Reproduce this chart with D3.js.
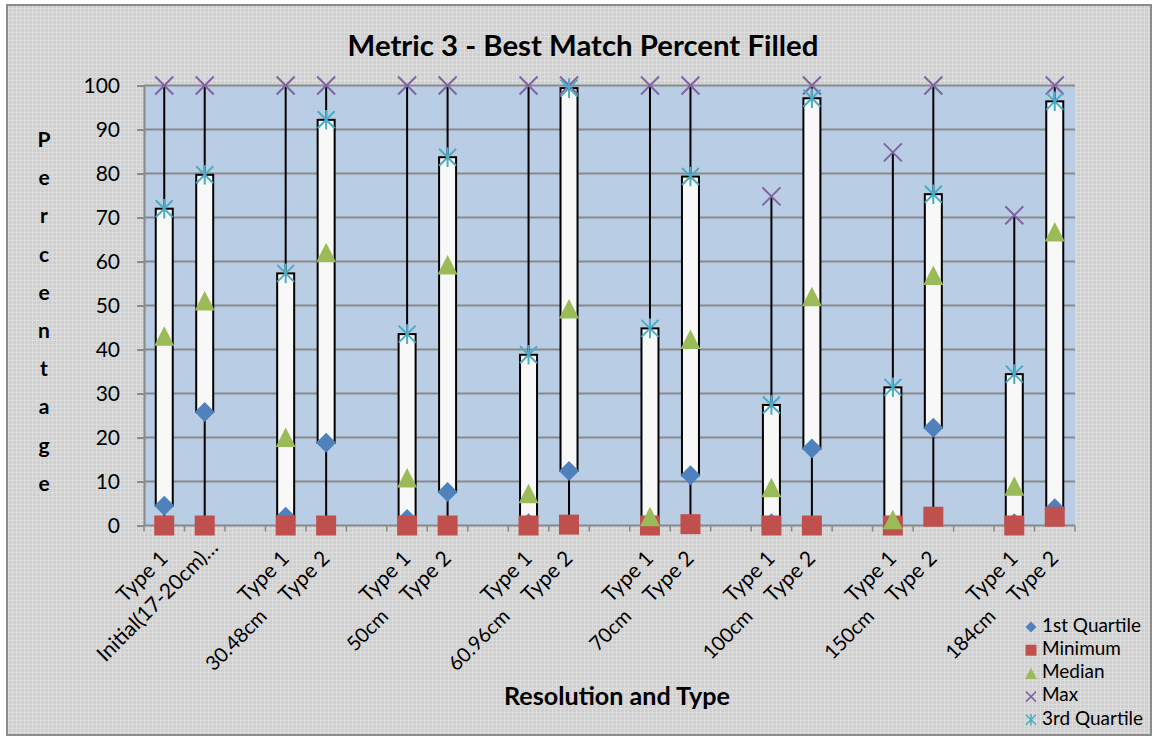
<!DOCTYPE html>
<html>
<head>
<meta charset="utf-8">
<script src="https://cdn.jsdelivr.net/npm/d3@7"></script>
<style>
  html, body { margin: 0; padding: 0; background: #ffffff; }
  svg { display: block; }
  text { font-family: Lato, "Open Sans", sans-serif; fill: #000; }
</style>
</head>
<body>
<svg id="chart" width="1158" height="740"></svg>
<script>
// Resolution groups and types, one box per (resolution, type)
const resolutions = ["Initial(17-20cm)", "30.48cm", "50cm", "60.96cm", "70cm", "100cm", "150cm", "184cm"];
const types = ["Type 1", "Type 2"];

// Five-number summaries, ordered T1, T2 for each resolution
const minimum  = [0, 0,    0, 0,    0, 0,    0, 0.2,  0, 0.3,  0, 0,    0, 2,     0, 2];
const quartile1 = [4.5, 25.8, 2, 18.8, 1.5, 7.6, 0.5, 12.4, 0, 11.4, 0.5, 17.5, 0, 22.2, 0.5, 3.9];
const median   = [43, 51,  20, 62,  10.8, 59.2, 7.2, 49.2, 2, 42.3, 8.6, 52, 1.3, 56.8, 8.9, 66.7];
const quartile3 = [72, 79.7, 57.3, 92.2, 43.5, 83.7, 38.8, 99.4, 44.8, 79.3, 27.4, 97.1, 31.4, 75.3, 34.4, 96.4];
const maximum  = [100, 100, 100, 100, 100, 100, 100, 100, 100, 100, 74.8, 100, 84.8, 100, 70.5, 100];

const yTicks = [0, 10, 20, 30, 40, 50, 60, 70, 80, 90, 100];
const legendNames = ["1st Quartile", "Minimum", "Median", "Max", "3rd Quartile"];

const colors = {
  q1: "#4f81bd", min: "#c0504d", med: "#9bbb59", max: "#8064a2", q3: "#4bacc6"
};

// Category slots: Type 1, Type 2, then an empty spacer after each group
const slots = [];
resolutions.forEach((r, gi) => {
  types.forEach((t, ti) => slots.push({ res: r, type: t, group: gi, ti: ti, k: gi * 2 + ti }));
  if (gi < resolutions.length - 1) slots.push(null);
});
const boxes = slots.map((s, i) => s ? Object.assign({ slot: i }, s) : null).filter(Boolean);
boxes.forEach(b => {
  b.min = minimum[b.k]; b.q1 = quartile1[b.k]; b.med = median[b.k];
  b.q3 = quartile3[b.k]; b.max = maximum[b.k];
});

const svg = d3.select("#chart");
const plot = { left: 144, right: 1075, top: 85.5, bottom: 525.5 };

// textured chart-area fill
const defs = svg.append("defs");
const pat = defs.append("pattern").attr("id", "tex").attr("width", 4).attr("height", 4)
  .attr("patternUnits", "userSpaceOnUse");
pat.append("rect").attr("width", 4).attr("height", 4).attr("fill", "#cfcfcf");
pat.append("rect").attr("width", 4).attr("height", 1).attr("fill", "#dddddd");
pat.append("rect").attr("width", 1).attr("height", 4).attr("fill", "#dddddd");

svg.append("rect").attr("x", 7).attr("y", 5).attr("width", 1144).attr("height", 730)
  .attr("fill", "url(#tex)").attr("stroke", "#8c8c8c").attr("stroke-width", 2);

const x = d3.scaleBand().domain(d3.range(slots.length)).range([plot.left, plot.right]).padding(0);
const y = d3.scaleLinear().domain([0, 100]).range([plot.bottom, plot.top]);
const cx = i => x(i) + x.bandwidth() / 2;

// plot area
svg.append("rect").attr("x", plot.left).attr("y", plot.top)
  .attr("width", plot.right - plot.left).attr("height", plot.bottom - plot.top)
  .attr("fill", "#b9cde5");

// horizontal gridlines
svg.append("g").selectAll("line").data(yTicks.filter(d => d > 0)).join("line")
  .attr("x1", plot.left).attr("x2", plot.right)
  .attr("y1", d => y(d)).attr("y2", d => y(d))
  .attr("stroke", "#8a8a8a").attr("stroke-width", 2);

// y axis
const yAxis = svg.append("g").attr("transform", `translate(${plot.left},0)`)
  .call(d3.axisLeft(y).tickValues(yTicks).tickSizeInner(7).tickSizeOuter(0).tickPadding(17));
yAxis.select(".domain").attr("stroke", "#8a8a8a").attr("stroke-width", 2);
yAxis.selectAll(".tick line").attr("stroke", "#8a8a8a").attr("stroke-width", 2);
yAxis.selectAll(".tick text").attr("font-family", "Lato").attr("font-size", 21).attr("fill", "#000");

// x axis line and category boundary ticks
svg.append("line").attr("x1", plot.left).attr("x2", plot.right)
  .attr("y1", plot.bottom).attr("y2", plot.bottom)
  .attr("stroke", "#8a8a8a").attr("stroke-width", 2);
svg.append("g").selectAll("line").data(d3.range(slots.length + 1)).join("line")
  .attr("x1", i => i < slots.length ? x(i) : plot.right)
  .attr("x2", i => i < slots.length ? x(i) : plot.right)
  .attr("y1", plot.bottom).attr("y2", plot.bottom + 6)
  .attr("stroke", "#8a8a8a").attr("stroke-width", 1.5);

// high-low lines
const gBox = svg.append("g");
gBox.selectAll("line.hl").data(boxes).join("line").attr("class", "hl")
  .attr("x1", d => cx(d.slot)).attr("x2", d => cx(d.slot))
  .attr("y1", d => y(d.max)).attr("y2", d => y(d.min))
  .attr("stroke", "#000").attr("stroke-width", 2);

// interquartile boxes
const boxW = 17;
gBox.selectAll("rect.iqr").data(boxes).join("rect").attr("class", "iqr")
  .attr("x", d => cx(d.slot) - boxW / 2).attr("width", boxW)
  .attr("y", d => y(d.q3)).attr("height", d => y(d.q1) - y(d.q3))
  .attr("fill", "#f8f8f8").attr("stroke", "#000").attr("stroke-width", 2);

// marker shapes centred on the origin
const shapes = {
  diamond: s => `M0,${-s}L${s},0L0,${s}L${-s},0Z`,
  square: s => `M${-s},${-s}H${s}V${s}H${-s}Z`,
  triangle: s => `M0,${-s}L${s},${s * 0.95}H${-s}Z`,
  cross: s => `M${-s},${-s}L${s},${s}M${s},${-s}L${-s},${s}`,
  star: s => `M${-s},${-s}L${s},${s}M${s},${-s}L${-s},${s}M0,${-s * 1.15}V${s * 1.15}`
};
const series = [
  { key: "q1", shape: "diamond", size: 10, fill: true },
  { key: "min", shape: "square", size: 10, fill: true },
  { key: "med", shape: "triangle", size: 10, fill: true },
  { key: "max", shape: "cross", size: 9, fill: false },
  { key: "q3", shape: "star", size: 8.5, fill: false }
];
series.forEach(s => {
  svg.append("g").selectAll("path").data(boxes).join("path")
    .attr("transform", d => `translate(${cx(d.slot)},${y(d[s.key])})`)
    .attr("d", shapes[s.shape](s.size))
    .attr("fill", s.fill ? colors[s.key] : "none")
    .attr("stroke", s.fill ? "none" : colors[s.key])
    .attr("stroke-width", s.fill ? 0 : 2);
});

// category labels (rotated): type on the first line, resolution on the next
const labelG = svg.append("g").attr("font-size", 21);
boxes.forEach(b => {
  let txt = b.type, dx = 1, dy = 556;
  if (b.group === 0 && b.ti === 1) { txt = b.res + "\u2026"; dx = 11; dy = 545; }
  labelG.append("text")
    .attr("transform", `translate(${cx(b.slot) + dx},${dy}) rotate(-45)`)
    .attr("text-anchor", "end").attr("dominant-baseline", "middle")
    .text(txt);
});
boxes.filter(b => b.group > 0 && b.ti === 0).forEach(b => {
  labelG.append("text")
    .attr("transform", `translate(${cx(b.slot) - 21},${614}) rotate(-45)`)
    .attr("text-anchor", "end").attr("dominant-baseline", "middle")
    .attr("font-size", 20)
    .text(b.res);
});

// fit text to a target width
function fit(sel, width) {
  const fs = parseFloat(sel.attr("font-size"));
  const w = sel.node().getComputedTextLength();
  sel.attr("font-size", fs * width / w);
  return sel;
}

// title
fit(svg.append("text").attr("x", 583).attr("y", 56).attr("text-anchor", "middle")
  .attr("font-weight", "bold").attr("font-size", 28)
  .text("Metric 3 - Best Match Percent Filled"), 471);

// x axis title
fit(svg.append("text").attr("x", 617).attr("y", 705).attr("text-anchor", "middle")
  .attr("font-weight", "bold").attr("font-size", 22)
  .text("Resolution and Type"), 226);

// y axis title, stacked letters
const yTitle = "Percentage".split("");
svg.append("g").selectAll("text").data(yTitle).join("text")
  .attr("x", 44).attr("y", (d, i) => 147 + i * 38.2)
  .attr("text-anchor", "middle").attr("font-weight", "bold").attr("font-size", 21)
  .text(d => d);

// legend
const leg = svg.append("g");
series.forEach((s, i) => {
  const ly = 627 + i * 23.2;
  const sz = { diamond: 5.5, square: 5.5, triangle: 5.8, cross: 5, star: 5 }[s.shape];
  leg.append("path").attr("transform", `translate(1031,${ly})`)
    .attr("d", shapes[s.shape](sz))
    .attr("fill", s.fill ? colors[s.key] : "none")
    .attr("stroke", s.fill ? "none" : colors[s.key])
    .attr("stroke-width", s.fill ? 0 : 1.5);
  leg.append("text").attr("x", 1042).attr("y", ly).attr("dominant-baseline", "middle")
    .attr("font-size", 18).text(legendNames[i]);
});
fit(leg.selectAll("text").filter((d, i) => i === 0), 99);
const legFs = leg.select("text").attr("font-size");
leg.selectAll("text").attr("font-size", legFs);
</script>
</body>
</html>
